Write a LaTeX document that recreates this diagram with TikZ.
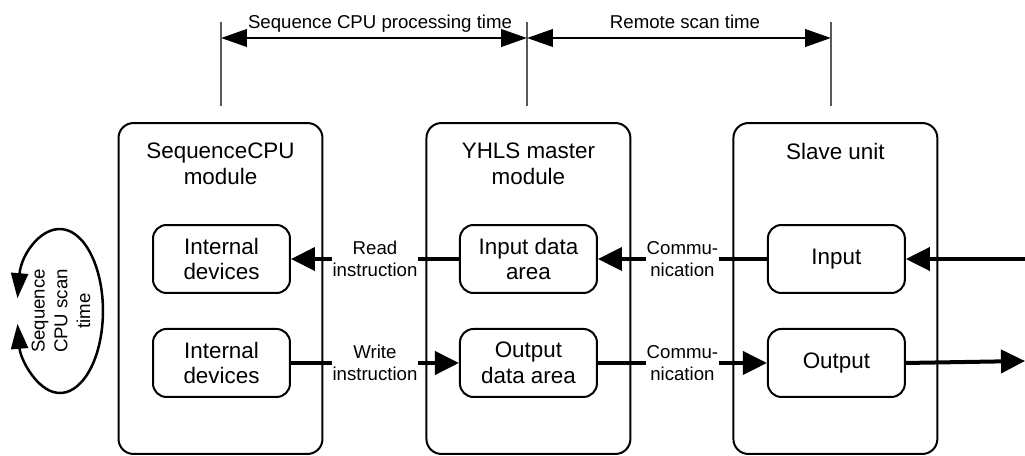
\documentclass[tikz,border=0pt]{standalone}
\usepackage{fontspec}
\setmainfont{Liberation Sans}
\usetikzlibrary{positioning, arrows.meta}
\newcommand{\bigtxt}{\fontsize{12.75}{14.7}\selectfont}
\newcommand{\smalltxt}{\fontsize{10.6}{12.9}\selectfont}
\tikzset{
	module/.style = {rectangle, rounded corners=0.3cm, draw=black, line width=0.04cm, minimum width=4.08cm, minimum height=6.62cm},
	unitbox/.style = {rectangle, rounded corners=0.27cm, draw=black, line width=0.04cm, minimum width=2.74cm, minimum height=1.36cm, align=center, font=\bigtxt},
	modtitle/.style = {align=center, inner sep=0pt, font=\bigtxt},
	lbl/.style = {fill=white, align=center, inner xsep=0.02cm, inner ysep=0pt, font=\smalltxt},
	dimlbl/.style = {midway, anchor=base, yshift=0.2cm, xshift=0.12cm, font=\smalltxt},
	bus/.style = {draw, line width=0.08cm, -{Triangle[length=0.48cm, width=0.46cm]}},
	dim/.style = {draw, line width=0.05cm, {Triangle[length=0.52cm, width=0.35cm]}-{Triangle[length=0.52cm, width=0.35cm]}},
	guide/.style = {draw, black!65, line width=0.025cm},
	scanloop/.style = {draw, line width=0.05cm, {Triangle[length=0.5cm, width=0.34cm]}-{Triangle[length=0.5cm, width=0.34cm]}}
}

\begin{document}
\begin{tikzpicture}[x=0.02cm, y=-0.02cm]
		\useasboundingbox (0,0) rectangle (1025,456);
		%modules
		\node (cpu) [module] at (220.5,288.5) {};
		\node (master) [module, right=2.04cm of cpu] {};
		\node (slave) [module, right=2.02cm of master] {};
		\node (cputitle) [modtitle, below=0.41cm of cpu.north] {SequenceCPU\\module};
		\node (mastertitle) [modtitle, below=0.41cm of master.north] {YHLS master\\module};
		\node (slavetitle) [modtitle, below=0.41cm of slave.north] {Slave unit};

		%data areas
		\node (cpuin) [unitbox] at (221.5,259) {Internal\\devices};
		\node (cpuout) [unitbox, below=0.68cm of cpuin] {Internal\\devices};
		\node (mstin) [unitbox, right=3.36cm of cpuin] {Input data\\area};
		\node (mstout) [unitbox, below=0.68cm of mstin] {Output\\data area};
		\node (slvin) [unitbox, right=3.38cm of mstin] {Input};
		\node (slvout) [unitbox, below=0.68cm of slvin] {Output};
		\coordinate (extin) at (1025,259);
		\coordinate (extout) at (1025,361);

		%timing marks
		\coordinate (g1a) at (221,22);
		\coordinate (g1b) at (221,106);
		\coordinate (g2a) at (527,22);
		\coordinate (g2b) at (527,106);
		\coordinate (g3a) at (831,22);
		\coordinate (g3b) at (831,106);
		\coordinate (d1) at (221,38);
		\coordinate (d2) at (527,38);
		\coordinate (d3) at (831,38);
		\path [guide] (g1a) -- (g1b);
		\path [guide] (g2a) -- (g2b);
		\path [guide] (g3a) -- (g3b);
		\path [dim] (d1) -- node[dimlbl] {Sequence CPU processing time} (d2);
		\path [dim] (d2) -- node[dimlbl] {Remote scan time} (d3);

		%scan cycle
		\node (scantxt) [lbl, fill=none, rotate=90] at (61,311) {Sequence\\CPU scan\\time};
		\coordinate (scanstart) at (17.5,298.2);
		\path [scanloop] (scanstart) arc [start angle=171, end angle=-171, x radius=0.86cm, y radius=1.64cm];

		%connections
		\path [bus] (extin) -- (slvin.east);
		\path [bus] (slvin.west) -- node[lbl] {Commu-\\nication} (mstin.east);
		\path [bus] (mstin.west) -- node[lbl] {Read\\instruction} (cpuin.east);
		\path [bus] (cpuout.east) -- node[lbl] {Write\\instruction} (mstout.west);
		\path [bus] (mstout.east) -- node[lbl] {Commu-\\nication} (slvout.west);
		\path [bus] (slvout.east) -- (extout);
\end{tikzpicture}
\end{document}
